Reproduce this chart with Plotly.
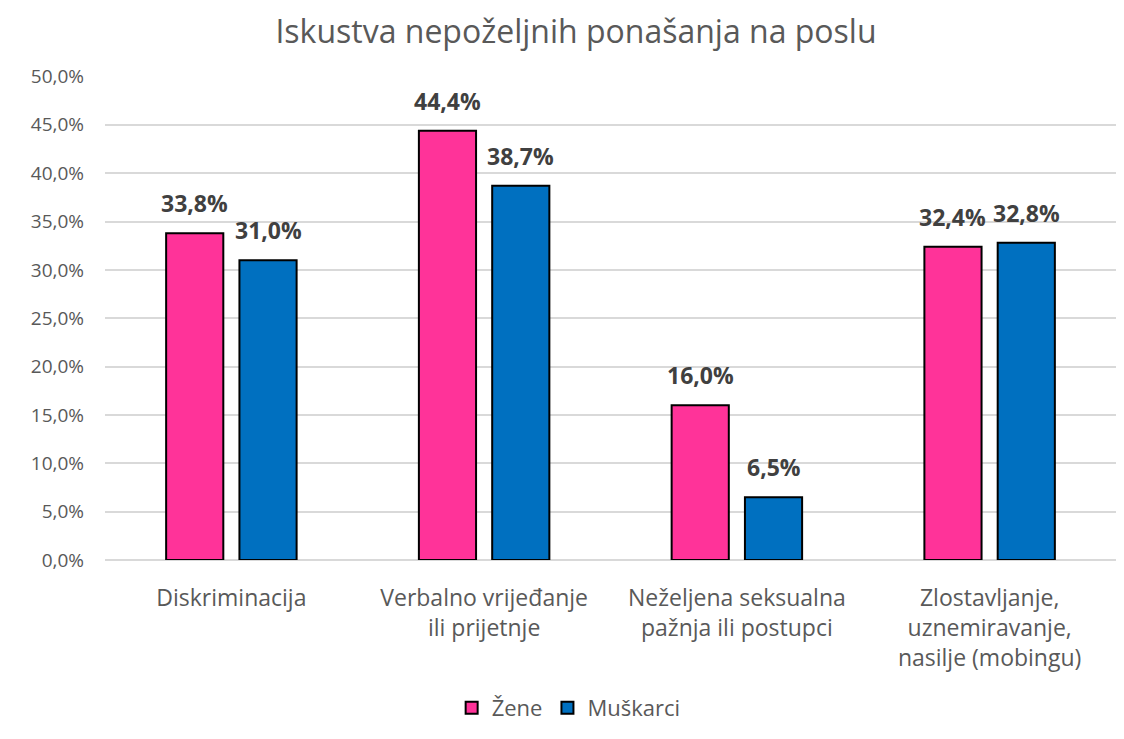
import plotly.graph_objects as go

categories = ["Diskriminacija", "Verbalno vrijeđanje<br>ili prijetnje",
              "Neželjena seksualna<br>pažnja ili postupci",
              "Zlostavljanje,<br>uznemiravanje,<br>nasilje (mobingu)"]
zene = [33.8, 44.4, 16.0, 32.4]
muskarci = [31.0, 38.7, 6.5, 32.8]
tick_vals = [0, 5, 10, 15, 20, 25, 30, 35, 40, 45, 50]
tick_text = [f"{v:.1f}%".replace(".", ",") for v in tick_vals]

FONT = "Open Sans"
GRAY = "#595959"
W, H = 1108, 723
ML, MR, MT, MB = 97, 0, 68, 171
BARGAP = 0.42

def lbl(v):
    return f"{v:.1f}%".replace(".", ",")

fig = go.Figure()
fig.add_trace(go.Bar(name="Žene", x=categories, y=zene,
                     marker=dict(color="#FF3399", line=dict(color="black", width=2))))
fig.add_trace(go.Bar(name="Muškarci", x=categories, y=muskarci,
                     marker=dict(color="#0070C0", line=dict(color="black", width=2))))

# data labels above each bar
cat_px = (W - ML - MR) / len(categories)
slot_px = cat_px * (1 - BARGAP) / 2
for series, sign in ((zene, -1), (muskarci, 1)):
    for c, v in zip(categories, series):
        fig.add_annotation(x=c, y=v, xref="x", yref="y", text=lbl(v),
                           showarrow=False, yanchor="bottom", xanchor="center",
                           xshift=sign * slot_px / 2, yshift=12,
                           font=dict(family=FONT, size=23, color="#404040", weight="bold"))

fig.update_layout(
    width=W, height=H,
    paper_bgcolor="white", plot_bgcolor="white",
    margin=dict(l=ML, r=MR, t=MT, b=MB, autoexpand=False),
    barmode="group", bargap=BARGAP, bargroupgap=0.22,
    title=dict(text="Iskustva nepoželjnih ponašanja na poslu", x=0.5126, xanchor="center",
               xref="container", yref="container", y=0.9668, yanchor="middle",
               font=dict(family=FONT, size=32, color=GRAY)),
    font=dict(family=FONT, color=GRAY),
    legend=dict(orientation="h", x=0.506, xanchor="center", xref="container",
                yref="container", y=0.032, yanchor="middle",
                font=dict(family=FONT, size=22, color=GRAY), traceorder="normal"),
)
fig.update_yaxes(range=[0, 50.05], tickvals=tick_vals, ticktext=tick_text,
                 showgrid=True, gridcolor="#D9D9D9", gridwidth=1.5,
                 zeroline=True, zerolinecolor="#D9D9D9", zerolinewidth=1.5,
                 tickfont=dict(family=FONT, size=19, color=GRAY),
                 ticks="", showline=False, automargin=False, ticklabelstandoff=20)
fig.update_xaxes(tickfont=dict(family=FONT, size=23, color=GRAY),
                 showline=False, ticks="", automargin=False, ticklabelstandoff=22)

fig.write_html("out.html")
